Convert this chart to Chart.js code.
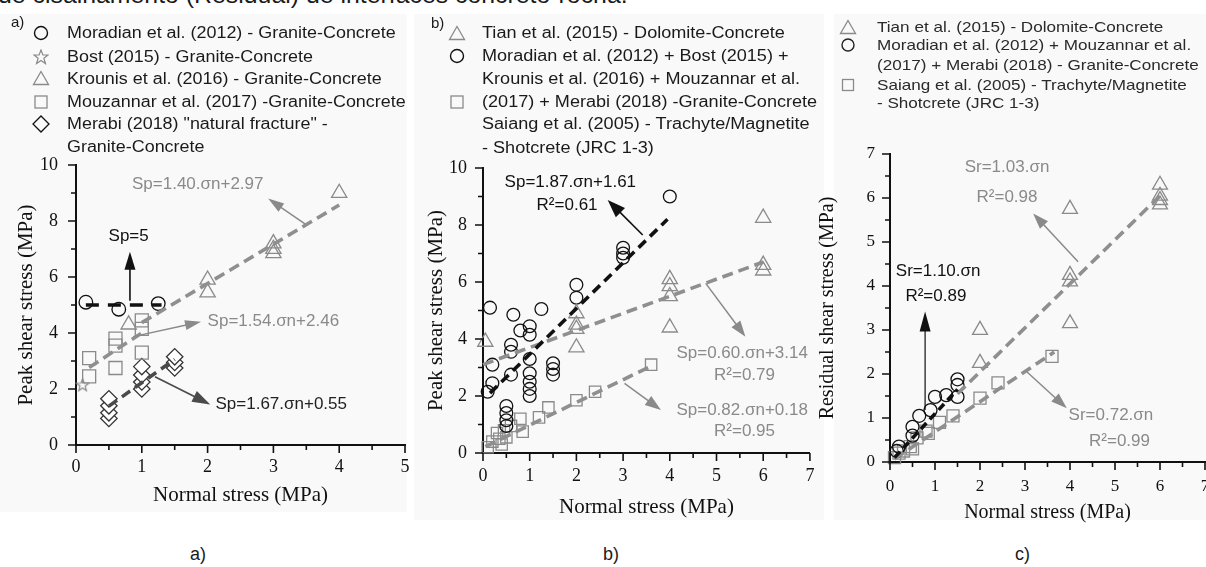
<!DOCTYPE html>
<html>
<head>
<meta charset="utf-8">
<script src="https://cdn.jsdelivr.net/npm/chart.js@4.4.1/dist/chart.umd.min.js"></script>
<style>
body { margin: 0; width: 1206px; height: 567px; background: #fff; position: relative; overflow: hidden;
       font-family: "Liberation Sans", Arial, sans-serif; color: #1a1a1a; }
.bg { position: absolute; background: #f9f9f9; }
.cv { position: absolute; }
.legend { position: absolute; overflow: hidden; height: 165px; }
.row { position: absolute; white-space: nowrap; line-height: 20px; transform-origin: 0 50%; }
.mk { position: absolute; }
.cap { position: absolute; font-size: 18px; }
.top { position: absolute; left: -2px; top: -18px; font-size: 23px; white-space: nowrap; transform-origin: 0 0; transform: scaleX(1.08); }
</style>
</head>
<body>
<div class="bg" style="left:0;top:14px;width:407px;height:498px"></div>
<div class="bg" style="left:414px;top:14px;width:410px;height:506px"></div>
<div class="bg" style="left:834px;top:14px;width:372px;height:506px"></div>

<div class="top">de cisalhamento (Residual) de interfaces concreto-rocha.</div>

<canvas id="chartA" class="cv" width="420" height="380" style="left:0;top:140px"></canvas>
<canvas id="chartB" class="cv" width="400" height="390" style="left:420px;top:140px"></canvas>
<canvas id="chartC" class="cv" width="406" height="400" style="left:810px;top:130px"></canvas>

<!-- legend a -->
<div class="legend" style="left:0;top:0;width:406px">
  <div class="row" style="left:11px;top:12px;font-size:15px">a)</div>
  <svg class="mk" style="left:33px;top:25px" width="16" height="16"><circle cx="8" cy="8" r="6.5" fill="none" stroke="#111" stroke-width="1.4"/></svg>
  <svg class="mk" style="left:33px;top:49px" width="16" height="16"><polygon points="8,1 9.9,6 15,6 10.9,9.2 12.4,14.5 8,11.4 3.6,14.5 5.1,9.2 1,6 6.1,6" fill="none" stroke="#8a8a8a" stroke-width="1.2"/></svg>
  <svg class="mk" style="left:32px;top:70px" width="18" height="16"><polygon points="9,1.5 16.5,14.5 1.5,14.5" fill="none" stroke="#8a8a8a" stroke-width="1.3"/></svg>
  <svg class="mk" style="left:33px;top:94px" width="16" height="16"><rect x="2" y="2" width="12" height="12" fill="none" stroke="#8a8a8a" stroke-width="1.3"/></svg>
  <svg class="mk" style="left:32px;top:115px" width="18" height="18"><polygon points="9,1 17,9 9,17 1,9" fill="none" stroke="#111" stroke-width="1.3"/></svg>
  <div class="row" style="left:67px;top:23px;font-size:16px;transform:scaleX(1.12)">Moradian et al. (2012) - Granite-Concrete</div>
  <div class="row" style="left:67px;top:47px;font-size:16px;transform:scaleX(1.12)">Bost (2015) - Granite-Concrete</div>
  <div class="row" style="left:67px;top:69px;font-size:16px;transform:scaleX(1.12)">Krounis et al. (2016) - Granite-Concrete</div>
  <div class="row" style="left:67px;top:92px;font-size:16px;transform:scaleX(1.12)">Mouzannar et al. (2017) -Granite-Concrete</div>
  <div class="row" style="left:67px;top:114px;font-size:16px;transform:scaleX(1.12)">Merabi (2018) "natural fracture" -</div>
  <div class="row" style="left:67px;top:137px;font-size:16px;transform:scaleX(1.12)">Granite-Concrete</div>
</div>

<!-- legend b -->
<div class="legend" style="left:420px;top:0;width:402px">
  <div class="row" style="left:11px;top:13px;font-size:15px">b)</div>
  <svg class="mk" style="left:28px;top:25px" width="18" height="16"><polygon points="9,1.5 16.5,14.5 1.5,14.5" fill="none" stroke="#8a8a8a" stroke-width="1.3"/></svg>
  <svg class="mk" style="left:29px;top:48px" width="16" height="16"><circle cx="8" cy="8" r="6.5" fill="none" stroke="#111" stroke-width="1.4"/></svg>
  <svg class="mk" style="left:29px;top:94px" width="16" height="16"><rect x="2" y="2" width="12" height="12" fill="none" stroke="#8a8a8a" stroke-width="1.3"/></svg>
  <div class="row" style="left:62px;top:23px;font-size:16px;transform:scaleX(1.13)">Tian et al. (2015) - Dolomite-Concrete</div>
  <div class="row" style="left:62px;top:46px;font-size:16px;transform:scaleX(1.13)">Moradian et al. (2012) + Bost (2015) +</div>
  <div class="row" style="left:62px;top:69px;font-size:16px;transform:scaleX(1.13)">Krounis et al. (2016) + Mouzannar et al.</div>
  <div class="row" style="left:62px;top:92px;font-size:16px;transform:scaleX(1.13)">(2017) + Merabi (2018) -Granite-Concrete</div>
  <div class="row" style="left:62px;top:114px;font-size:16px;transform:scaleX(1.13)">Saiang et al. (2005) - Trachyte/Magnetite</div>
  <div class="row" style="left:62px;top:138px;font-size:16px;transform:scaleX(1.13)">- Shotcrete (JRC 1-3)</div>
</div>

<!-- legend c -->
<div class="legend" style="left:836px;top:0;width:370px;color:#2a2a2a">
  <svg class="mk" style="left:3px;top:19px" width="18" height="16"><polygon points="9,1.5 16.5,14.5 1.5,14.5" fill="none" stroke="#8a8a8a" stroke-width="1.3"/></svg>
  <svg class="mk" style="left:4px;top:37px" width="16" height="16"><circle cx="8" cy="8" r="6" fill="none" stroke="#222" stroke-width="1.4"/></svg>
  <svg class="mk" style="left:4px;top:77px" width="16" height="16"><rect x="2.5" y="2.5" width="11" height="11" fill="none" stroke="#8a8a8a" stroke-width="1.3"/></svg>
  <div class="row" style="left:41px;top:17px;font-size:15px;transform:scaleX(1.14)">Tian et al. (2015) - Dolomite-Concrete</div>
  <div class="row" style="left:41px;top:35px;font-size:15px;transform:scaleX(1.14)">Moradian et al. (2012) + Mouzannar et al.</div>
  <div class="row" style="left:41px;top:55px;font-size:15px;transform:scaleX(1.14)">(2017) + Merabi (2018) - Granite-Concrete</div>
  <div class="row" style="left:41px;top:75px;font-size:15px;transform:scaleX(1.14)">Saiang et al. (2005) - Trachyte/Magnetite</div>
  <div class="row" style="left:41px;top:93px;font-size:15px;transform:scaleX(1.14)">- Shotcrete (JRC 1-3)</div>
</div>

<div class="cap" style="left:190px;top:544px">a)</div>
<div class="cap" style="left:603px;top:544px">b)</div>
<div class="cap" style="left:1015px;top:544px">c)</div>

<script>
// ---- panel a: peak shear stress, granite-concrete ----
const moradianA = [{x:0.15,y:5.1},{x:0.65,y:4.85},{x:1.25,y:5.05}];
const bostA = [{x:0.1,y:2.15}];
const krounisA = [{x:0.8,y:4.3},{x:2,y:5.45},{x:2,y:5.9},{x:3,y:6.85},{x:3,y:7.0},{x:3,y:7.2},{x:4,y:9.0}];
const mouzannarA = [{x:0.2,y:2.45},{x:0.2,y:3.1},{x:0.6,y:2.75},{x:0.6,y:3.55},{x:0.6,y:3.8},{x:1,y:3.3},{x:1,y:4.15},{x:1,y:4.45}];
const merabiA = [{x:0.5,y:0.95},{x:0.5,y:1.15},{x:0.5,y:1.4},{x:0.5,y:1.65},{x:1,y:2.0},{x:1,y:2.25},{x:1,y:2.5},{x:1,y:2.8},{x:1.5,y:2.75},{x:1.5,y:2.95},{x:1.5,y:3.15}];
const fitA5 = [{x:0.15,y:5},{x:1.3,y:5}];
const fitA154 = [{x:0.2,y:2.77},{x:1.0,y:4.0}];
const fitA140 = [{x:1.0,y:4.37},{x:4.0,y:8.57}];
const fitA167 = [{x:0.5,y:1.39},{x:1.5,y:3.06}];

// ---- panel b: peak shear stress, all rocks ----
const tianPeak = [{x:0.05,y:3.9},{x:2,y:3.7},{x:2,y:4.35},{x:2,y:4.5},{x:2,y:4.9},{x:4,y:4.4},{x:4,y:5.5},{x:4,y:5.85},{x:4,y:6.1},{x:6,y:6.4},{x:6,y:6.6},{x:6,y:8.25}];
const granitePeak = [].concat(moradianA, bostA, krounisA, mouzannarA, merabiA);
const saiangPeak = [{x:0.1,y:0.2},{x:0.2,y:0.4},{x:0.3,y:0.7},{x:0.35,y:0.5},{x:0.4,y:0.3},{x:0.45,y:0.8},{x:0.5,y:0.55},{x:0.6,y:0.95},{x:0.8,y:1.2},{x:0.85,y:0.75},{x:1.2,y:1.25},{x:1.4,y:1.6},{x:2.0,y:1.85},{x:2.4,y:2.15},{x:3.6,y:3.1}];
const fitB187 = [{x:0.15,y:2.1},{x:3.95,y:8.2}];
const fitB060 = [{x:0,y:3.1},{x:6,y:6.7}];
const fitB082 = [{x:0.05,y:0.22},{x:3.6,y:3.05}];

// ---- panel c: residual shear stress ----
const tianRes = [{x:2,y:2.25},{x:2,y:3.0},{x:4,y:3.15},{x:4,y:4.1},{x:4,y:4.25},{x:4,y:5.75},{x:6,y:5.85},{x:6,y:5.95},{x:6,y:6.05},{x:6,y:6.3}];
const graniteRes = [{x:0.15,y:0.25},{x:0.2,y:0.35},{x:0.5,y:0.6},{x:0.5,y:0.8},{x:0.65,y:1.05},{x:0.9,y:1.18},{x:1,y:1.48},{x:1.25,y:1.52},{x:1.5,y:1.48},{x:1.5,y:1.75},{x:1.5,y:1.88}];
const saiangRes = [{x:0.1,y:0.1},{x:0.2,y:0.2},{x:0.3,y:0.25},{x:0.45,y:0.35},{x:0.5,y:0.3},{x:0.6,y:0.55},{x:0.8,y:0.7},{x:0.85,y:0.65},{x:1.1,y:0.9},{x:1.4,y:1.05},{x:2,y:1.45},{x:2.4,y:1.8},{x:3.6,y:2.4}];
const fitC110 = [{x:0.1,y:0.1},{x:1.5,y:1.65}];
const fitC103 = [{x:1.5,y:1.55},{x:6,y:6.05}];
const fitC072 = [{x:0.1,y:0.07},{x:3.65,y:2.5}];

const BLACK = '#111', GREY = '#8a8a8a', LINEGREY = '#8f8f8f', DARK = '#4a4a4a';

// five point star used as point style for Bost (2015)
function starImage(size, color) {
    const c = document.createElement('canvas');
    c.width = size; c.height = size;
    const g = c.getContext('2d');
    const cx = size / 2, cy = size / 2 + 0.5, ro = size / 2 - 1, ri = ro * 0.42;
    g.beginPath();
    for (let i = 0; i < 10; i++) {
        const r = i % 2 ? ri : ro;
        const a = -Math.PI / 2 + i * Math.PI / 5;
        g.lineTo(cx + r * Math.cos(a), cy + r * Math.sin(a));
    }
    g.closePath();
    g.strokeStyle = color; g.lineWidth = 1.2;
    g.stroke();
    return c;
}

function fit(data, color, dash, width) {
    return { data, showLine: true, pointRadius: 0, borderColor: color, borderWidth: width || 3.6,
             borderDash: dash || [11, 6], fill: false, clip: false };
}
function pts(data, style, radius, color, fillColor) {
    return { data, showLine: false, pointStyle: style, pointRadius: radius, borderColor: color,
             backgroundColor: fillColor || 'transparent', pointBorderColor: color,
             pointBackgroundColor: fillColor || 'transparent', pointBorderWidth: 1.3, clip: false };
}

function drawArrow(ctx, x1, y1, x2, y2, color, lw, hl, hw) {
    const a = Math.atan2(y2 - y1, x2 - x1);
    ctx.strokeStyle = color; ctx.fillStyle = color; ctx.lineWidth = lw;
    ctx.setLineDash([]);
    ctx.beginPath();
    ctx.moveTo(x1, y1);
    ctx.lineTo(x2 - Math.cos(a) * hl * 0.8, y2 - Math.sin(a) * hl * 0.8);
    ctx.stroke();
    ctx.beginPath();
    ctx.moveTo(x2, y2);
    ctx.lineTo(x2 - hl * Math.cos(a) + hw / 2 * Math.sin(a), y2 - hl * Math.sin(a) - hw / 2 * Math.cos(a));
    ctx.lineTo(x2 - hl * Math.cos(a) - hw / 2 * Math.sin(a), y2 - hl * Math.sin(a) + hw / 2 * Math.cos(a));
    ctx.closePath();
    ctx.fill();
}

// draws major/minor axis ticks and the equation labels with their arrows
const extras = {
    id: 'extras',
    afterDraw(chart, args, opts) {
        const { ctx, scales: { x, y } } = chart;
        ctx.save();
        ctx.strokeStyle = BLACK; ctx.lineWidth = 1.6;
        const minors = vals => vals.slice(1).map((v, i) => (v + vals[i]) / 2);
        const xv = x.ticks.map(t => t.value), yv = y.ticks.map(t => t.value);
        ctx.beginPath();
        xv.forEach(v => { const p = x.getPixelForValue(v); ctx.moveTo(p, x.top); ctx.lineTo(p, x.top + 8); });
        minors(xv).forEach(v => { const p = x.getPixelForValue(v); ctx.moveTo(p, x.top); ctx.lineTo(p, x.top + 5); });
        yv.forEach(v => { const p = y.getPixelForValue(v); ctx.moveTo(y.right, p); ctx.lineTo(y.right - 8, p); });
        minors(yv).forEach(v => { const p = y.getPixelForValue(v); ctx.moveTo(y.right, p); ctx.lineTo(y.right - 5, p); });
        ctx.stroke();

        (opts.notes || []).forEach(n => {
            if (n.arrow) {
                drawArrow(ctx, x.getPixelForValue(n.arrow[0]), y.getPixelForValue(n.arrow[1]),
                          x.getPixelForValue(n.arrow[2]), y.getPixelForValue(n.arrow[3]),
                          n.color, n.lw || 1.5, n.hl || 16, n.hw || 10);
            } else {
                ctx.font = (n.size || 17) + 'px "Liberation Sans", Arial, sans-serif';
                ctx.fillStyle = n.color;
                ctx.textAlign = n.align || 'center';
                ctx.textBaseline = 'middle';
                ctx.fillText(n.text, x.getPixelForValue(n.x), y.getPixelForValue(n.y));
            }
        });
        ctx.restore();
    }
};

function makeChart(id, datasets, s) {
    const tickFont = { family: '"Liberation Serif", "Times New Roman", serif', size: s.tickSize };
    const titleFont = { family: '"Liberation Serif", "Times New Roman", serif', size: s.titleSize };
    return new Chart(document.getElementById(id), {
        type: 'scatter',
        data: { datasets },
        options: {
            responsive: false,
            animation: false,
            events: [],
            layout: { padding: s.padding },
            plugins: { legend: { display: false }, tooltip: { enabled: false }, extras: { notes: s.notes } },
            scales: {
                x: {
                    type: 'linear', min: 0, max: s.xMax,
                    ticks: { stepSize: 1, font: tickFont, color: BLACK, padding: s.xPad, maxRotation: 0 },
                    grid: { drawOnChartArea: false, color: 'transparent', tickLength: 8 },
                    border: { display: true, color: BLACK, width: 2 },
                    title: { display: true, text: 'Normal stress (MPa)', font: titleFont, color: BLACK, padding: { top: 4, bottom: 4 } },
                    afterFit: sc => { sc.height = s.xHeight; }
                },
                y: {
                    type: 'linear', min: 0, max: s.yMax,
                    ticks: { stepSize: s.yStep, font: tickFont, color: BLACK, padding: s.yPad },
                    grid: { drawOnChartArea: false, color: 'transparent', tickLength: 8 },
                    border: { display: true, color: BLACK, width: 2 },
                    title: { display: true, text: s.yTitle, font: titleFont, color: BLACK, padding: { top: s.yTitlePad, bottom: 0 } },
                    afterFit: sc => { sc.width = s.yWidth; }
                }
            }
        },
        plugins: [extras]
    });
}

// panel a
makeChart('chartA', [
    fit(fitA5, BLACK, [13, 9], 3.5),
    fit(fitA167, DARK, [10, 6], 3.5),
    fit(fitA154, LINEGREY),
    fit(fitA140, LINEGREY),
    pts(moradianA, 'circle', 6.8, BLACK),
    pts(bostA, starImage(15, GREY), 7, GREY),
    pts(krounisA, 'triangle', 8.8, GREY),
    pts(mouzannarA, 'rect', 9.2, GREY),
    pts(merabiA, 'rectRot', 8.2, '#333', '#fff')
], {
    padding: { left: 10, top: 25, right: 15, bottom: 8 },
    xMax: 5, yMax: 10, yStep: 2, tickSize: 18, titleSize: 21,
    xHeight: 67, yWidth: 66, xPad: 3, yPad: 10, yTitlePad: 4,
    yTitle: 'Peak shear stress (MPa)',
    notes: [
        { text: 'Sp=5', x: 0.8, y: 7.45, color: BLACK },
        { arrow: [0.82, 5.15, 0.82, 6.9], color: BLACK, lw: 1.6, hl: 18, hw: 11 },
        { text: 'Sp=1.40.σn+2.97', x: 1.85, y: 9.3, color: GREY },
        { arrow: [3.48, 7.9, 2.92, 8.8], color: GREY, lw: 1.5, hl: 16, hw: 10 },
        { arrow: [0.87, 3.87, 1.9, 4.4], color: GREY, lw: 1.5, hl: 16, hw: 10 },
        { text: 'Sp=1.54.σn+2.46', x: 2.0, y: 4.4, color: GREY, align: 'left' },
        { arrow: [1.2, 2.44, 2.04, 1.45], color: DARK, lw: 1.6, hl: 18, hw: 12 },
        { text: 'Sp=1.67.σn+0.55', x: 2.12, y: 1.46, color: '#222', align: 'left' }
    ]
});

// panel b
makeChart('chartB', [
    fit(fitB187, BLACK, [10, 6], 3.6),
    fit(fitB060, LINEGREY),
    fit(fitB082, LINEGREY),
    pts(tianPeak, 'triangle', 8.8, GREY),
    pts(granitePeak, 'circle', 6.4, BLACK),
    pts(saiangPeak, 'rect', 8, GREY)
], {
    padding: { left: 4, top: 28, right: 10, bottom: 6 },
    xMax: 7, yMax: 10, yStep: 2, tickSize: 18, titleSize: 21,
    xHeight: 71, yWidth: 59, xPad: 4, yPad: 8, yTitlePad: 0,
    yTitle: 'Peak shear stress (MPa)',
    notes: [
        { text: 'Sp=1.87.σn+1.61', x: 1.87, y: 9.5, color: BLACK },
        { text: 'R²=0.61', x: 1.8, y: 8.7, color: BLACK },
        { arrow: [3.42, 7.65, 2.67, 8.88], color: BLACK, lw: 1.6, hl: 18, hw: 13 },
        { arrow: [4.77, 5.95, 5.62, 4.08], color: GREY, lw: 1.5, hl: 16, hw: 11 },
        { text: 'Sp=0.60.σn+3.14', x: 5.55, y: 3.5, color: GREY },
        { text: 'R²=0.79', x: 5.6, y: 2.74, color: GREY },
        { arrow: [3.03, 2.44, 3.81, 1.51], color: GREY, lw: 1.5, hl: 16, hw: 11 },
        { text: 'Sp=0.82.σn+0.18', x: 5.55, y: 1.51, color: GREY },
        { text: 'R²=0.95', x: 5.6, y: 0.75, color: GREY }
    ]
});

// panel c
makeChart('chartC', [
    fit(fitC110, BLACK, [8, 5], 3.6),
    fit(fitC103, LINEGREY),
    fit(fitC072, LINEGREY),
    pts(tianRes, 'triangle', 8.6, GREY),
    pts(graniteRes, 'circle', 6.5, BLACK),
    pts(saiangRes, 'rect', 8.5, GREY)
], {
    padding: { left: 6, top: 24, right: 11, bottom: 1 },
    xMax: 7, yMax: 7, yStep: 1, tickSize: 17, titleSize: 20,
    xHeight: 67, yWidth: 74, xPad: 6, yPad: 7, yTitlePad: 0,
    yTitle: 'Residual shear stress (MPa)',
    notes: [
        { text: 'Sr=1.03.σn', x: 2.6, y: 6.7, color: GREY },
        { text: 'R²=0.98', x: 2.6, y: 6.02, color: GREY },
        { arrow: [4.18, 4.55, 3.18, 5.65], color: GREY, lw: 1.5, hl: 16, hw: 11 },
        { text: 'Sr=1.10.σn', x: 1.07, y: 4.33, color: BLACK },
        { text: 'R²=0.89', x: 1.02, y: 3.76, color: BLACK },
        { arrow: [0.78, 1.18, 0.78, 3.42], color: BLACK, lw: 1.2, hl: 20, hw: 11 },
        { text: 'Sr=0.72.σn', x: 4.91, y: 1.07, color: GREY },
        { text: 'R²=0.99', x: 5.1, y: 0.46, color: GREY },
        { arrow: [3.04, 2.05, 3.93, 1.22], color: GREY, lw: 1.5, hl: 16, hw: 11 }
    ]
});
</script>
</body>
</html>
